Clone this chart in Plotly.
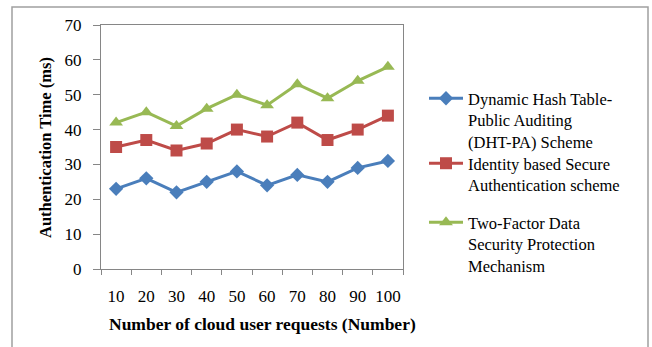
import plotly.graph_objects as go

categories = ["10", "20", "30", "40", "50", "60", "70", "80", "90", "100"]
dht_pa = [23, 26, 22, 25, 28, 24, 27, 25, 29, 31]
identity_auth = [35, 37, 34, 36, 40, 38, 42, 37, 40, 44]
two_factor = [42, 45, 41, 46, 50, 47, 53, 49, 54, 58]
y_ticks = [0, 10, 20, 30, 40, 50, 60, 70]

names = [
    "Dynamic Hash Table-<br>Public Auditing<br>(DHT-PA) Scheme",
    "Identity based Secure<br>Authentication scheme",
    "Two-Factor Data<br>Security Protection<br>Mechanism",
]
x_title = "Number of cloud user requests (Number)"
y_title = "Authentication Time (ms)"
colors = ["#4a7ebb", "#be4b48", "#98b954"]
symbols = ["diamond", "square", "triangle-up"]
sizes = [11, 12, 12]
series = [dht_pa, identity_auth, two_factor]
legends = ["legend", "legend2", "legend3"]

FONT = "Liberation Serif, Times New Roman, serif"

W, H = 652, 347
L, R, T, B = 101, 403, 25, 269
pw, ph = R - L, B - T

def px(x):
    return (x - L) / pw

def py(y):
    return (B - y) / ph

fig = go.Figure()
for vals, nm, c, s, sz, lg in zip(series, names, colors, symbols, sizes, legends):
    fig.add_trace(go.Scatter(
        x=categories, y=vals, name=nm, mode="lines+markers",
        line=dict(color=c, width=3),
        marker=dict(symbol=s, size=sz, color=c),
        legend=lg, hoverinfo="skip",
    ))

legend_common = dict(
    font=dict(family=FONT, size=16.5, color="#000000"),
    bgcolor="rgba(0,0,0,0)", borderwidth=0,
    xanchor="left", yanchor="top", itemwidth=34, valign="top",
)
leg_pos = [81, 146, 205]
leg_x = 424

fig.update_layout(
    width=W, height=H,
    margin=dict(l=L, r=W - R, t=T, b=H - B, autoexpand=False),
    paper_bgcolor="white", plot_bgcolor="white",
    showlegend=True,
    legend=dict(x=px(leg_x), y=py(leg_pos[0]), **legend_common),
    legend2=dict(x=px(leg_x), y=py(leg_pos[1]), **legend_common),
    legend3=dict(x=px(leg_x), y=py(leg_pos[2]), **legend_common),
    xaxis=dict(
        type="category", tickson="boundaries", ticks="outside", ticklen=5,
        tickcolor="#868686", showline=True, linecolor="#868686", linewidth=1,
        mirror=True, showgrid=False, ticklabelstandoff=12, tickangle=0,
        automargin=False,
        tickfont=dict(family=FONT, size=17, color="#000000"),
        range=[-0.5, 9.5],
    ),
    yaxis=dict(
        range=[0, 70], tickvals=y_ticks, ticks="outside", ticklen=7,
        tickcolor="#868686", showline=True, linecolor="#868686", linewidth=1,
        mirror=True, showgrid=False, zeroline=False, automargin=False,
        ticklabelstandoff=8,
        tickfont=dict(family=FONT, size=17, color="#000000"),
    ),
    annotations=[
        dict(text="<b>" + x_title + "</b>", xref="paper", yref="paper",
             x=px(262), y=py(324), xanchor="center", yanchor="middle",
             showarrow=False, font=dict(family=FONT, size=17.5, color="#000000")),
        dict(text="<b>" + y_title + "</b>", xref="paper", yref="paper",
             x=px(45), y=py(148), xanchor="center", yanchor="middle", textangle=-90,
             showarrow=False, font=dict(family=FONT, size=16.5, color="#000000")),
    ],
    shapes=[dict(
        type="rect", xref="paper", yref="paper",
        x0=px(12), x1=px(648), y0=py(352), y1=py(7),
        line=dict(color="#a0a0a0", width=1.5), fillcolor="rgba(0,0,0,0)", layer="below",
    )],
)

fig.write_html("out.html", config={"displayModeBar": False},
               post_script="document.body.style.margin='0';")
